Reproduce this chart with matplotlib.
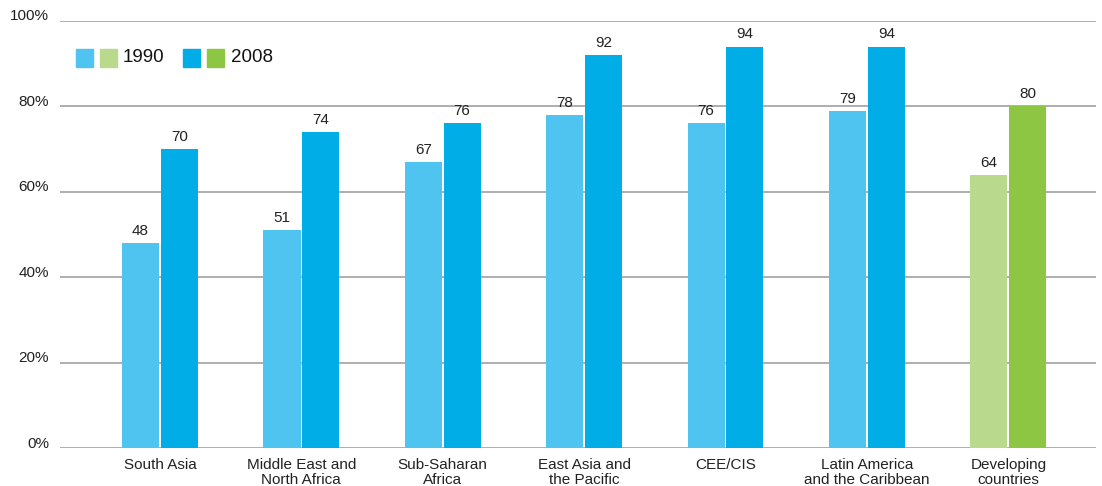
import matplotlib
matplotlib.use("Agg")
import matplotlib.pyplot as plt
import matplotlib.transforms as mtransforms
from matplotlib.patches import Rectangle
import numpy as np

plt.rcParams['font.family'] = ['Liberation Sans Narrow', 'Liberation Sans', 'DejaVu Sans']

categories = ["South Asia", "Middle East and\nNorth Africa", "Sub-Saharan\nAfrica",
              "East Asia and\nthe Pacific", "CEE/CIS", "Latin America\nand the Caribbean",
              "Developing\ncountries"]
v1990 = [48, 51, 67, 78, 76, 79, 64]
v2008 = [70, 74, 76, 92, 94, 94, 80]
yticks = [0, 20, 40, 60, 80, 100]
ytick_labels = ["0%", "20%", "40%", "60%", "80%", "100%"]
series_names = ["1990", "2008"]

c1990 = ["#4FC4F0"] * 6 + ["#B9DA8D"]
c2008 = ["#00ADE7"] * 6 + ["#8DC642"]

fig = plt.figure(figsize=(11.02, 4.86), dpi=100)
ax = fig.add_axes([60/1102, 1-448/486, (1096-60)/1102, (448-21)/486])

x = np.arange(len(categories))
w = 0.262
off = 0.137
b1 = ax.bar(x - off, v1990, w, color=c1990, zorder=3)
b2 = ax.bar(x + off, v2008, w, color=c2008, zorder=3)
for bars, vals in ((b1, v1990), (b2, v2008)):
    for r, v in zip(bars, vals):
        ax.text(r.get_x() + r.get_width()/2, v + 1.2, str(v), ha='center', va='bottom',
                fontsize=11, color='#222222')

ax.set_xlim(-0.707, 6.62)
ax.set_ylim(0, 100)
ax.set_yticks(yticks)
ax.set_yticklabels(ytick_labels, fontsize=11, color='#222222')
ax.set_xticks(x)
ax.set_xticklabels(categories, fontsize=11, color='#222222', linespacing=1.15)
ax.tick_params(axis='both', length=0)
ax.tick_params(axis='y', pad=8)
ax.tick_params(axis='x', pad=7)
shift = mtransforms.ScaledTranslation(0, 6/100, fig.dpi_scale_trans)
for lab in ax.get_yticklabels():
    lab.set_transform(lab.get_transform() + shift)
ax.yaxis.grid(True, color='#A8A8A8', linewidth=1.3, zorder=0)
ax.set_axisbelow(True)
for s in ax.spines.values():
    s.set_visible(False)

# legend (manual)
def px(xp, yp):
    return (xp/1102, 1 - yp/486)

sq = 17
for xp, col in ((76, "#4FC4F0"), (100, "#B9DA8D"), (183, "#00ADE7"), (207, "#8DC642")):
    x0, y0 = px(xp, 67)
    fig.patches.append(Rectangle((x0, y0), sq/1102, 18/486, transform=fig.transFigure,
                                 color=col, zorder=5))
fig.text(*px(123, 58), series_names[0], fontsize=13.5, va='center', ha='left', color='#111111')
fig.text(*px(231, 58), series_names[1], fontsize=13.5, va='center', ha='left', color='#111111')

fig.savefig("out.png", dpi=100)
